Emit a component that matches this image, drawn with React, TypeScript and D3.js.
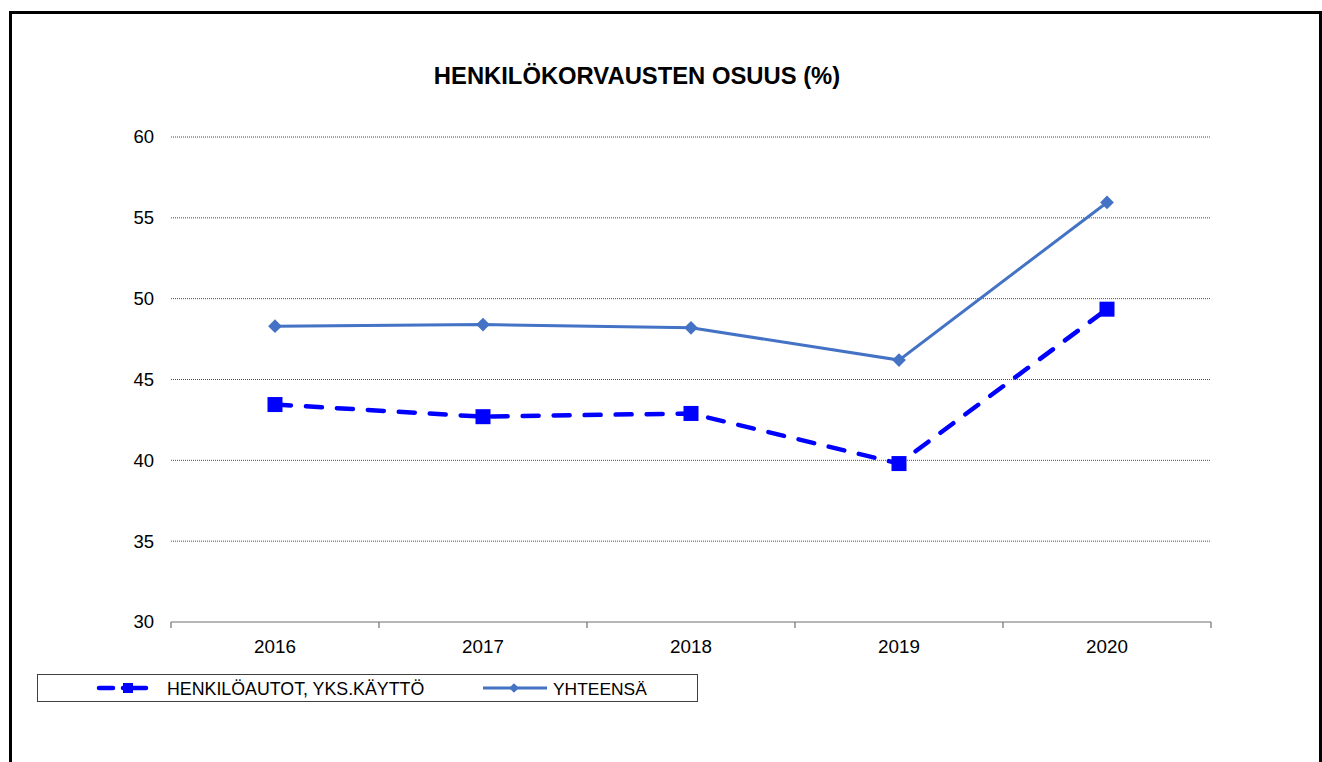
import React from "react";
import * as d3 from "d3";

const years = ["2016", "2017", "2018", "2019", "2020"];
const autot = [43.45, 42.7, 42.9, 39.8, 49.35];
const yhteensa = [48.3, 48.4, 48.2, 46.2, 55.95];
const yTicks = [30, 35, 40, 45, 50, 55, 60];

const W = 1322, H = 762;
const left = 171, right = 1211, top = 137, bottom = 622;
const font = "Liberation Sans, Arial, sans-serif";

export default function App() {
  const x = d3.scaleBand<string>().domain(years).range([left, right]);
  const y = d3.scaleLinear().domain([30, 60]).range([bottom, top]);
  const cx = (d: string) => (x(d) as number) + x.bandwidth() / 2;

  const line = d3.line<number>()
    .x((_, i) => cx(years[i]))
    .y(d => y(d));

  const diamond = d3.symbol().type(d3.symbolDiamond2).size(120)() as string;

  return (
    <svg width={W} height={H} style={{ position: "absolute", left: 0, top: 0 }}>
      <rect x={0} y={0} width={W} height={H} fill="#fff" />
      <rect x={10.5} y={12.5} width={1310} height={H} fill="none" stroke="#000" strokeWidth={3} />
      <text x={637} y={84} textAnchor="middle" fontFamily={font} fontWeight="bold" fontSize={23.8}>
        HENKILÖKORVAUSTEN OSUUS (%)
      </text>

      {yTicks.slice(1).map(t => (
        <line key={t} x1={left} x2={right} y1={y(t)} y2={y(t)} stroke="#4d4d4d" strokeWidth={1} strokeDasharray="1 1" />
      ))}
      {yTicks.map(t => (
        <text key={t} x={154} y={y(t)} dy="0.35em" textAnchor="end" fontFamily={font} fontSize={18.5}>{t}</text>
      ))}

      <line x1={left} x2={right} y1={bottom} y2={bottom} stroke="#707070" strokeWidth={1.2} />
      {d3.range(years.length + 1).map(i => {
        const xx = i < years.length ? (x(years[i]) as number) : right;
        return <line key={i} x1={xx} x2={xx} y1={bottom} y2={bottom + 6} stroke="#707070" strokeWidth={1.2} />;
      })}
      {years.map(d => (
        <text key={d} x={cx(d)} y={653} textAnchor="middle" fontFamily={font} fontSize={18.8}>{d}</text>
      ))}

      <path d={line(yhteensa) as string} fill="none" stroke="#4472C4" strokeWidth={3} />
      {yhteensa.map((v, i) => (
        <path key={i} d={diamond} transform={`translate(${cx(years[i])},${y(v)})`} fill="#4472C4" />
      ))}

      <path d={line(autot) as string} fill="none" stroke="#0000FF" strokeWidth={4.5} strokeDasharray="16 15" strokeLinecap="round" />
      {autot.map((v, i) => (
        <rect key={i} x={cx(years[i]) - 7.5} y={y(v) - 7.5} width={15} height={15} fill="#0000FF" />
      ))}

      <rect x={37.5} y={674.5} width={660} height={27} fill="none" stroke="#404040" strokeWidth={1} />
      <line x1={99} x2={113} y1={688} y2={688} stroke="#0000FF" strokeWidth={4.5} strokeLinecap="round" />
      <line x1={123} x2={146} y1={688} y2={688} stroke="#0000FF" strokeWidth={4.5} strokeLinecap="round" />
      <rect x={123} y={683} width={10} height={10} fill="#0000FF" />
      <text x={167} y={695} fontFamily={font} fontSize={17.8}>HENKILÖAUTOT, YKS.KÄYTTÖ</text>
      <line x1={483} x2={547} y1={688} y2={688} stroke="#4472C4" strokeWidth={3} />
      <path d={d3.symbol().type(d3.symbolDiamond2).size(60)() as string} transform="translate(514,688)" fill="#4472C4" />
      <text x={553} y={695} fontFamily={font} fontSize={17.4}>YHTEENSÄ</text>
    </svg>
  );
}
